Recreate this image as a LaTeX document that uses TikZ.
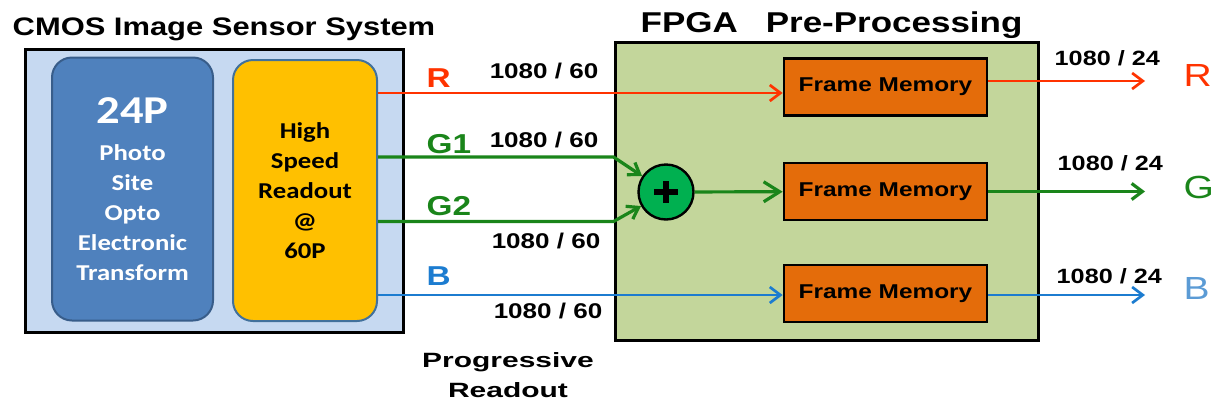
\documentclass[tikz,border=0pt]{standalone}
\usepackage{fontspec}
\setmainfont{Liberation Sans}
\newfontfamily\widesans[FakeStretch=1.22]{Liberation Sans}
\newfontfamily\widersans[FakeStretch=1.45]{Liberation Sans}
\newfontfamily\calibriwide[FakeStretch=1.18]{Carlito}
\usepackage{tikz}
\usetikzlibrary{arrows.meta}

\definecolor{sensorbg}{HTML}{C6D9F1}
\definecolor{photoblue}{HTML}{4F81BD}
\definecolor{photoedge}{HTML}{385D8A}
\definecolor{readoutyellow}{HTML}{FFC000}
\definecolor{readoutedge}{HTML}{41719C}
\definecolor{fpgagreen}{HTML}{C3D69B}
\definecolor{memorange}{HTML}{E46C0A}
\definecolor{sumgreen}{HTML}{00B050}
\definecolor{rcol}{HTML}{FF3300}
\definecolor{gcol}{HTML}{1A851A}
\definecolor{bcol}{HTML}{1C7CD0}
\definecolor{bout}{HTML}{5B9BD5}

\newcommand{\drawFrameMemory}[2]{% name, center y
  \node[memory] (#1) at (885.5,#2) {Frame Memory};
}
\newcommand{\drawSum}[3]{% name, center: x,y
  \node[sum] (#1) at (#2,#3) {};
  \draw[line width=4pt] (#2-12,#3) -- (#2+12,#3);
  \draw[line width=4pt] (#2,#3-11) -- (#2,#3+11);
}

\begin{document}
\begin{tikzpicture}[x=0.75pt,y=-0.75pt,>={Straight Barb[length=8pt,width=12pt]},
  sensorbox/.style={draw,line width=2.25pt,fill=sensorbg,minimum width=283.5pt,minimum height=212.25pt},
  photobox/.style={draw=photoedge,line width=1.5pt,fill=photoblue,rounded corners=15pt,
    minimum width=120.75pt,minimum height=197.25pt,align=center,text=white,
    font=\calibriwide\bfseries\fontsize{17}{22.5}\selectfont},
  readoutbox/.style={draw=readoutedge,line width=1.5pt,fill=readoutyellow,rounded corners=15pt,
    minimum width=108pt,minimum height=195.75pt,align=center,
    font=\calibriwide\bfseries\fontsize{17}{22.5}\selectfont},
  fpgabox/.style={draw,line width=2.25pt,fill=fpgagreen,minimum width=317.25pt,minimum height=223.5pt},
  memory/.style={draw,line width=2pt,fill=memorange,minimum width=152.25pt,minimum height=42.75pt,
    font=\widesans\bfseries\fontsize{15}{18}\selectfont},
  sum/.style={circle,draw,line width=1.8pt,fill=sumgreen,minimum size=41.25pt},
  title/.style={font=\widesans\bfseries\fontsize{19}{22}\selectfont},
  chan/.style={font=\widesans\bfseries\fontsize{20.5}{24}\selectfont},
  chanout/.style={font=\widesans\fontsize{24}{28}\selectfont},
  fast/.style={font=\widesans\bfseries\fontsize{16}{19}\selectfont},
  slow/.style={font=\widesans\bfseries\fontsize{15.5}{19}\selectfont},
  rline/.style={draw=rcol,line width=2pt},
  gline/.style={draw=gcol,line width=2.4pt},
  bline/.style={draw=bcol,line width=2pt}]
\useasboundingbox (0,0) rectangle (1214,408);

% CMOS image sensor system
\node[sensorbox] (sensor) at (214,190.5) {};
\node[photobox] (photo) at (132.5,189) {{\fontsize{29.6}{30}\selectfont 24P}\\[5pt]Photo\\Site\\Opto\\Electronic\\Transform};
\node[readoutbox] (readout) at (305,190.5) {High\\Speed\\Readout\\@\\60P};
\node[title,anchor=base west] (sensor title) at (8,35) {CMOS Image Sensor System};

% FPGA pre-processing
\node[fpgabox] (fpga) at (826.5,191) {};
\node[title,anchor=base west,font=\widesans\bfseries\fontsize{21.5}{25}\selectfont] (fpga title) at (636,32) {FPGA\hspace{21pt}Pre-Processing};
\drawFrameMemory{mem r}{87}
\drawFrameMemory{mem g}{191.5}
\drawFrameMemory{mem b}{293.5}
\drawSum{sum}{666}{192}

% Line levels
\coordinate (r lev) at (0,93);
\coordinate (g1 lev) at (0,157);
\coordinate (g2 lev) at (0,221.5);
\coordinate (b lev) at (0,295);
\coordinate (r out) at (1145,81);
\coordinate (g out) at (1145,191.5);
\coordinate (b out) at (1145,295);

% Channels into the FPGA
\draw[rline,->] (readout.east |- r lev) -- (mem r.west |- r lev);
\draw[gline,->,>={Straight Barb[length=8pt,width=11pt]}] (readout.east |- g1 lev) -- (fpga.west |- g1 lev) -- (sum);
\draw[gline,->,>={Straight Barb[length=8pt,width=11pt]}] (readout.east |- g2 lev) -- (fpga.west |- g2 lev) -- (sum);
\draw[gline,->,>={Straight Barb[length=12pt,width=15pt]}] (sum) -- (mem g);
\draw[bline,->] (readout.east |- b lev) -- (mem b.west |- b lev);

% Channels out
\draw[rline,->] (mem r.east |- r out) -- (r out);
\draw[gline,->] (mem g.east) -- (g out);
\draw[bline,->] (mem b.east |- b out) -- (b out);

% Channel names and rates in
\node[chan,text=rcol,anchor=base west] (r name) at (422,87) {R};
\node[chan,text=gcol,anchor=base west] (g1 name) at (422,153) {G1};
\node[chan,text=gcol,anchor=base west] (g2 name) at (422,215) {G2};
\node[chan,text=bcol,anchor=base west] (b name) at (422,285) {B};
\node[fast,anchor=base east] (r rate) at (603,78) {1080 / 60};
\node[fast,anchor=base east] (g1 rate) at (603,147) {1080 / 60};
\node[fast,anchor=base east] (g2 rate) at (605,248) {1080 / 60};
\node[fast,anchor=base east] (b rate) at (607,318) {1080 / 60};

% Channel names and rates out
\node[slow,anchor=base west] (r rate out) at (1050,65) {1080 / 24};
\node[slow,anchor=base west] (g rate out) at (1053,170) {1080 / 24};
\node[slow,anchor=base west] (b rate out) at (1052,283) {1080 / 24};
\node[chanout,text=rcol,anchor=base west] (r name out) at (1179,86) {R};
\node[chanout,text=gcol,anchor=base west] (g name out) at (1179,198) {G};
\node[chanout,text=bout,anchor=base west] (b name out) at (1179,299) {B};

% Progressive readout
\node[align=center,font=\widersans\bfseries\fontsize{15.5}{23}\selectfont] (progressive) at (508,375) {Progressive\\Readout};
\end{tikzpicture}
\end{document}
